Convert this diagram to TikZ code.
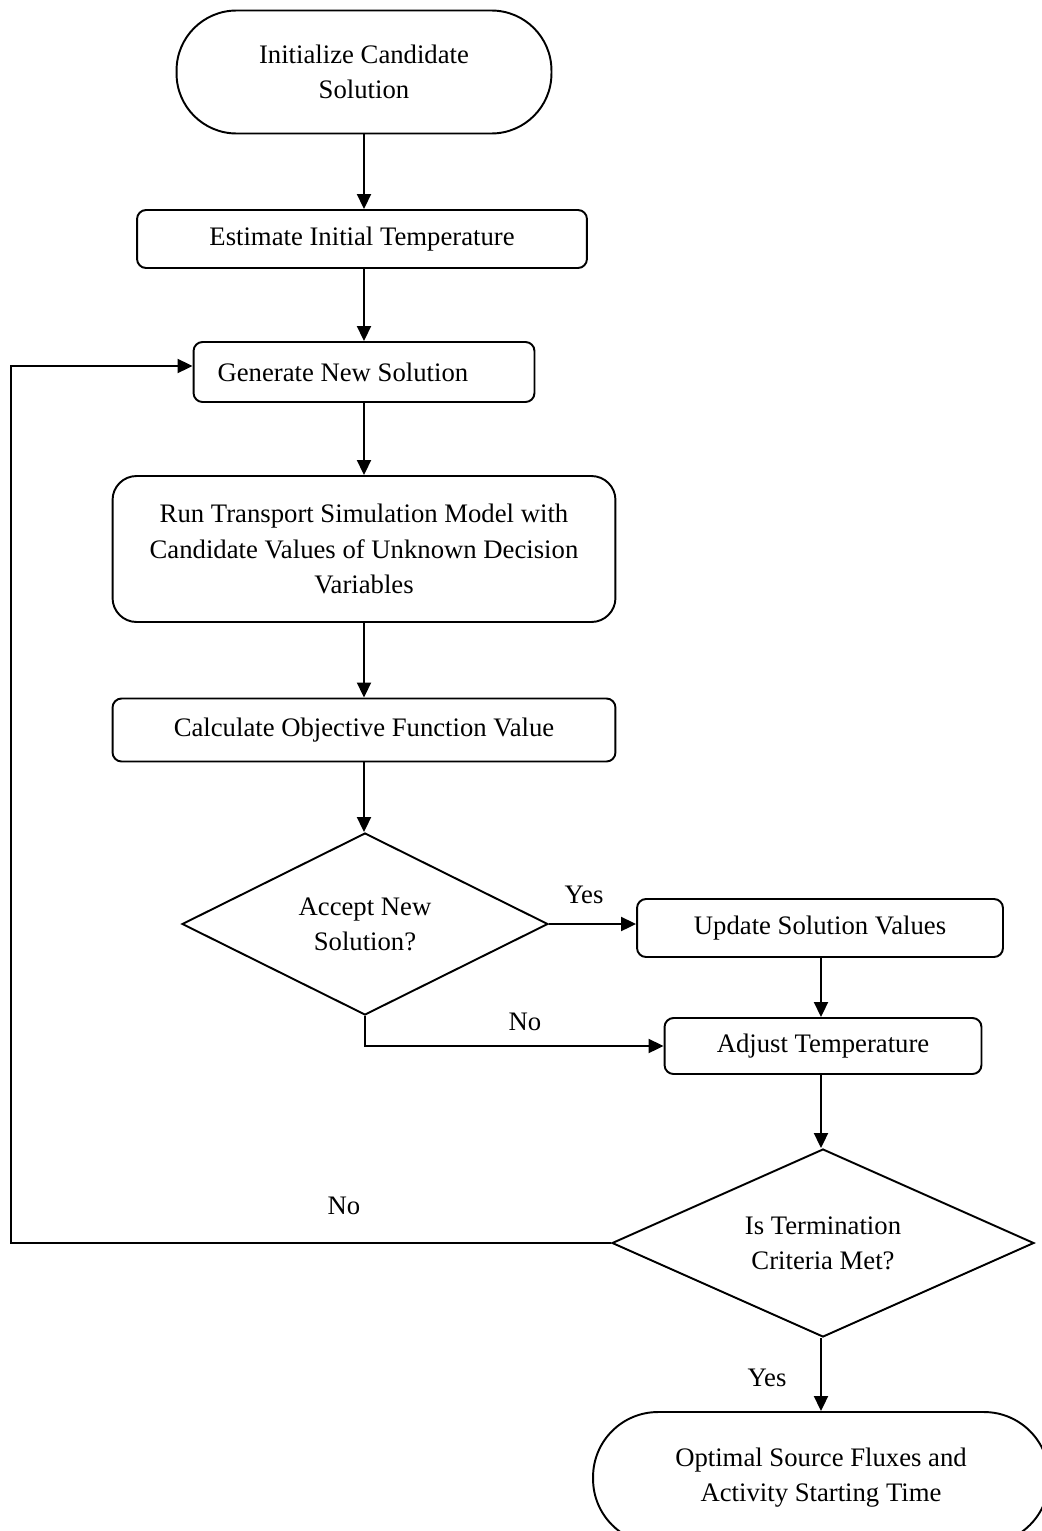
\documentclass[tikz,border=0pt]{standalone}
\usepackage{fontspec}
\setmainfont{Liberation Serif}
\usetikzlibrary{shapes.geometric,arrows.meta}

\begin{document}
\begin{tikzpicture}[x=0.02cm, y=-0.02cm, line width=1.1pt,
        >={Triangle[length=0.3cm, width=0.28cm]},
        every node/.style={font=\fontsize{15.2}{20}\selectfont},
        box/.style={draw, rounded corners=0.18cm, align=center, inner sep=0pt},
        ends/.style={draw, rounded corners=1.2cm, align=center, inner sep=0pt},
        choice/.style={draw, diamond, aspect=2, align=center, inner sep=0pt}]
        \useasboundingbox (0, 0) rectangle (1041, 1531);
        % main column
        \node[ends, minimum width=7.5cm, minimum height=2.46cm] at (364, 72) (Init) {Initialize Candidate\\Solution};
        \node[box, minimum width=9cm, minimum height=1.16cm] at (362, 239) (Est) {Estimate Initial Temperature};
        \node[box, minimum width=6.82cm, minimum height=1.2cm, align=flush left, inner xsep=0.48cm, text width=5.86cm] at (364, 372) (Gen) {Generate New Solution};
        \node[box, rounded corners=0.48cm, minimum width=10.06cm, minimum height=2.92cm] at (364, 549) (Run) {Run Transport Simulation Model with\\Candidate Values of Unknown Decision\\Variables};
        \node[box, minimum width=10.06cm, minimum height=1.26cm] at (364, 730) (Calc) {Calculate Objective Function Value};
        \node[choice, minimum width=7.32cm, minimum height=3.64cm] at (365, 924) (Acc) {Accept New\\Solution?};
        % right column
        \node[box, minimum width=7.32cm, minimum height=1.16cm] at (820, 928) (Upd) {Update Solution Values};
        \node[box, minimum width=6.34cm, minimum height=1.12cm] at (823, 1046) (Adj) {Adjust Temperature};
        \node[choice, minimum width=8.44cm, minimum height=3.76cm] at (823, 1243) (Term) {Is Termination\\Criteria Met?};
        \node[ends, minimum width=9.12cm, minimum height=2.64cm, rounded corners=1.3cm] at (821, 1478) (End) {Optimal Source Fluxes and\\Activity Starting Time};
        % labels
        \node at (584, 895) (YesA) {Yes};
        \node at (525, 1022) (NoA) {No};
        \node at (344, 1206) (NoT) {No};
        \node at (767, 1378) (YesT) {Yes};
        \coordinate (Back) at (11, 366);
        % connectors
        \draw[->] (Init) -- (Init |- Est.north);
        \draw[->] (Est.south -| Init) -- (Init |- Gen.north);
        \draw[->] (Gen.south -| Init) -- (Init |- Run.north);
        \draw[->] (Run) -- (Calc);
        \draw[->] (Calc.south -| Init) -- (Init |- Acc.north);
        \draw[->] (Acc.east) -- (Acc.east -| Upd.west);
        \draw[->] (Upd.south -| End) -- (End |- Adj.north);
        \draw[->] (Acc.south) |- (Adj.west);
        \draw[->] (Adj.south -| End) -- (End |- Term.north);
        \draw[->] (Term.west) -- (Term.west -| Back) -- (Back) -- (Back -| Gen.west);
        \draw[->] (Term.south -| End) -- (End);
\end{tikzpicture}
\end{document}
